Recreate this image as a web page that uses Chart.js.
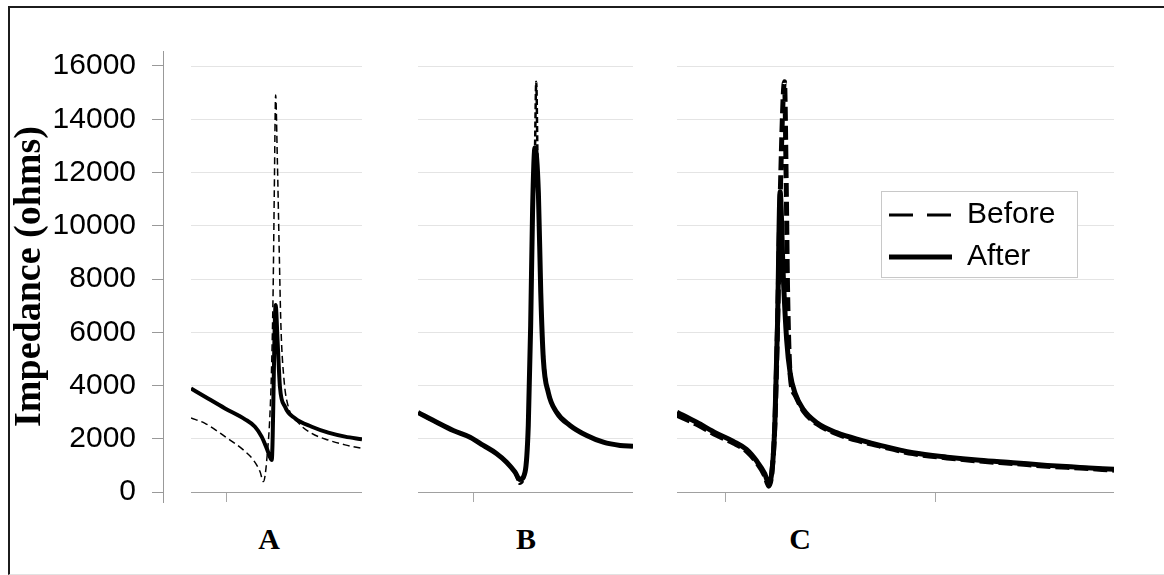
<!DOCTYPE html>
<html lang="en">
<head>
<meta charset="UTF-8">
<title>Impedance before and after</title>
<script src="https://cdn.jsdelivr.net/npm/chart.js"></script>
<style>
  body { margin: 0; background: #fff; width: 1164px; height: 575px; overflow: hidden; position: relative; }
  #frame { position: absolute; left: 8px; top: 6px; width: 1160px; height: 566px;
           border-left: 2px solid #1c1c1c; border-top: 2px solid #1c1c1c; border-bottom: 1px solid #e2e2e2; }
  canvas { position: absolute; }
  .lbl { position: absolute; top: 524px; font: bold 30px "Liberation Serif", serif; line-height: 30px;
         transform: translateX(-50%); color: #000; }
  #legendBox { position: absolute; left: 881px; top: 191px; width: 195px; height: 85px;
               border: 1px solid #c8c8c8; background: #fff; }
</style>
</head>
<body>
<div id="frame"></div>
<canvas id="axisY" width="172" height="575" style="left:0;top:0"></canvas>
<canvas id="panelA" width="171" height="442" style="left:191px;top:60px"></canvas>
<canvas id="panelB" width="215" height="442" style="left:418px;top:60px"></canvas>
<canvas id="panelC" width="437" height="442" style="left:677px;top:60px"></canvas>
<div id="legendBox"></div>
<canvas id="legendC" width="210" height="260" style="left:877px;top:188px"></canvas>
<div class="lbl" style="left:269px">A</div>
<div class="lbl" style="left:526px">B</div>
<div class="lbl" style="left:800px">C</div>

<script>
    // x is the position along each panel's sweep (0-100), y is impedance in ohms
    const beforeAX = [0, 8.2, 19.9, 30.6, 36.5, 40.4, 42.3, 44.3, 46.8, 48.0, 48.7, 49.5, 50.5, 51.5, 52.6, 54.4, 56.9, 62.8, 70.6, 80.3, 90.1, 100];
    const beforeAY = [2780, 2580, 2080, 1580, 1200, 760, 390, 1200, 3960, 7460, 11220, 14910, 12470, 9340, 6210, 4210, 3200, 2600, 2200, 1950, 1770, 1640];
    const afterAX = [0, 8.2, 19.9, 31.6, 37.4, 41.3, 44.3, 47.2, 49.5, 50.7, 52.0, 55.0, 60.8, 70.6, 80.3, 90.1, 100];
    const afterAY = [3890, 3580, 3140, 2730, 2450, 2080, 1640, 1200, 7020, 5580, 3960, 3200, 2770, 2450, 2230, 2080, 1980];

    const beforeBX = [0, 8.7, 16.4, 24.2, 30.4, 36.6, 41.2, 45.1, 47.2, 49.8, 51.3, 52.4, 53.3, 54.4, 55.0, 55.6, 56.5, 57.6, 58.8, 61.0, 64.5, 70.7, 78.5, 86.2, 94.0, 100];
    const beforeBY = [2950, 2590, 2290, 2030, 1720, 1420, 1100, 720, 310, 700, 2450, 6150, 10500, 12800, 15410, 12400, 9000, 6600, 4800, 3700, 2980, 2490, 2110, 1860, 1740, 1710];
    const afterBX = [0, 8.7, 16.4, 24.2, 30.4, 36.6, 41.2, 45.1, 47.4, 49.8, 51.3, 52.4, 53.3, 54.4, 56.0, 57.1, 58.3, 60.6, 64.5, 70.7, 78.5, 86.2, 94.0, 100];
    const afterBY = [2990, 2620, 2310, 2060, 1750, 1440, 1120, 750, 470, 750, 2500, 6240, 10610, 12920, 11230, 7490, 4990, 3740, 2990, 2500, 2120, 1870, 1750, 1720];

    const beforeCX = [0, 4.5, 9.1, 12.9, 15.9, 18.2, 20.1, 21.0, 21.7, 22.4, 23.0, 23.6, 24.6, 25.0, 25.3, 25.9, 27.0, 28.9, 32.0, 36.5, 42.6, 46.5, 54.0, 61.8, 69.3, 76.9, 84.7, 92.2, 100];
    const beforeCY = [2880, 2540, 2130, 1840, 1540, 1110, 600, 220, 700, 2550, 6200, 11000, 15410, 11500, 7600, 4400, 3650, 3050, 2560, 2190, 1880, 1720, 1440, 1280, 1160, 1070, 970, 900, 820];
    const afterCX = [0, 4.5, 9.1, 12.9, 15.9, 18.2, 20.1, 20.9, 21.7, 22.4, 23.0, 23.6, 24.3, 25.1, 25.9, 27.0, 28.9, 32.0, 36.5, 42.6, 46.5, 54.0, 61.8, 69.3, 76.9, 84.7, 92.2, 100];
    const afterCY = [3000, 2620, 2200, 1900, 1600, 1170, 680, 350, 740, 2600, 6300, 11280, 8180, 5700, 4460, 3720, 3100, 2600, 2230, 1920, 1750, 1475, 1310, 1190, 1100, 1000, 925, 850];

    const yTicks = [0, 2000, 4000, 6000, 8000, 10000, 12000, 14000, 16000];
    const xTicksA = [20.5];
    const xTicksB = [25.7];
    const xTicksC = [11.0, 59.1];
    const seriesNames = ['Before', 'After'];

    Chart.defaults.font.family = '"Liberation Sans", Arial, sans-serif';
    Chart.defaults.color = '#000';

    function pts(xs, ys) {
        return xs.map((x, i) => ({ x: x, y: ys[i] }));
    }

    function lineSets(before, after, st) {
        return [
            { label: seriesNames[0], data: before, borderColor: '#000', borderWidth: st.bw, borderDash: st.dash,
              pointRadius: 0, cubicInterpolationMode: 'monotone' },
            { label: seriesNames[1], data: after, borderColor: '#000', borderWidth: st.aw,
              pointRadius: 0, cubicInterpolationMode: 'monotone' }
        ];
    }

    function makePanel(id, datasets, ticks) {
        return new Chart(document.getElementById(id), {
            type: 'line',
            data: { datasets: datasets },
            options: {
                responsive: false,
                animation: false,
                events: [],
                layout: { padding: { top: 6 } },
                plugins: { legend: { display: false }, tooltip: { enabled: false } },
                scales: {
                    x: {
                        type: 'linear', min: 0, max: 100,
                        afterBuildTicks: s => { s.ticks = ticks.map(v => ({ value: v })); },
                        afterFit: s => { s.height = 10; },
                        ticks: { display: false },
                        grid: { drawOnChartArea: false, tickLength: 10, color: '#a8a8a8' },
                        border: { color: '#a0a0a0' }
                    },
                    y: {
                        min: 0, max: 16000,
                        afterFit: s => { s.width = 0; },
                        afterBuildTicks: s => { s.ticks = yTicks.map(v => ({ value: v })); },
                        ticks: { display: false },
                        grid: { drawTicks: false, color: '#e4e4e4' },
                        border: { display: false }
                    }
                }
            }
        });
    }

    // shared y axis on the left
    new Chart(document.getElementById('axisY'), {
        type: 'line',
        data: { datasets: [] },
        options: {
            responsive: false,
            animation: false,
            events: [],
            layout: { padding: { top: 51, bottom: 73 } },
            plugins: { legend: { display: false }, tooltip: { enabled: false } },
            scales: {
                x: { display: false },
                y: {
                    min: -375, max: 16563,
                    afterFit: s => { s.width = 163; },
                    afterBuildTicks: s => { s.ticks = yTicks.map(v => ({ value: v })); },
                    ticks: { padding: 16, color: '#000', font: { size: 30 },
                             callback: v => String(v) },
                    grid: { drawOnChartArea: false, tickLength: 11, color: '#999' },
                    border: { color: '#999' },
                    title: { display: true, text: 'Impedance (ohms)', color: '#000',
                             font: { family: '"Liberation Serif", serif', size: 38, weight: 'bold' },
                             padding: { top: 7, bottom: 0 } }
                }
            }
        }
    });

    makePanel('panelA', lineSets(pts(beforeAX, beforeAY), pts(afterAX, afterAY), { bw: 1.5, dash: [7, 4], aw: 4 }), xTicksA);
    makePanel('panelB', lineSets(pts(beforeBX, beforeBY), pts(afterBX, afterBY), { bw: 2.5, dash: [6, 3], aw: 5 }), xTicksB);
    makePanel('panelC', lineSets(pts(beforeCX, beforeCY), pts(afterCX, afterCY), { bw: 5, dash: [14, 5], aw: 5 }), xTicksC);

    // legend drawn by its own small chart, sitting in the box over panel C
    new Chart(document.getElementById('legendC'), {
        type: 'line',
        data: { datasets: lineSets([], [], { bw: 3, dash: [24, 14], aw: 5 }) },
        options: {
            responsive: false,
            animation: false,
            events: [],
            scales: { x: { display: false }, y: { display: false } },
            plugins: {
                tooltip: { enabled: false },
                legend: {
                    position: 'top',
                    align: 'start',
                    labels: {
                        usePointStyle: true,
                        pointStyleWidth: 63,
                        padding: 12,
                        color: '#000',
                        font: { size: 30 },
                        generateLabels: chart => chart.data.datasets.map((d, i) => ({
                            text: d.label, datasetIndex: i, hidden: false,
                            strokeStyle: '#000', fillStyle: '#000',
                            lineWidth: d.borderWidth, lineDash: d.borderDash || [],
                            pointStyle: 'line'
                        }))
                    }
                }
            }
        }
    });
</script>
</body>
</html>
